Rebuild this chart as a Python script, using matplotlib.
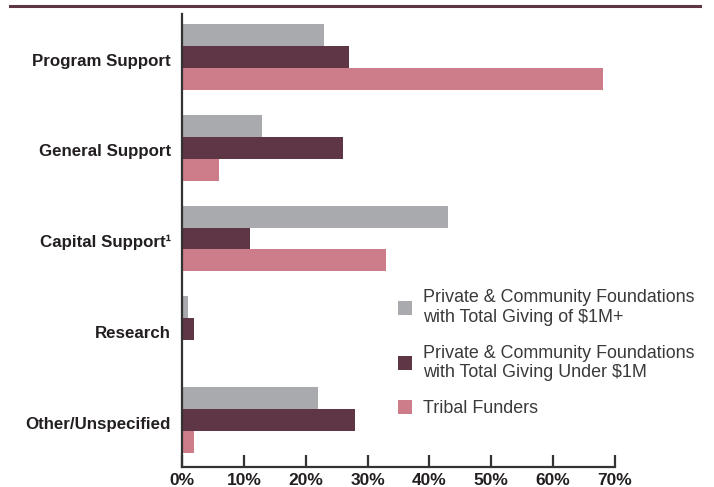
import matplotlib
matplotlib.use("Agg")
import matplotlib.pyplot as plt
import numpy as np
from matplotlib.patches import Patch
from matplotlib.lines import Line2D

categories = ["Program Support", "General Support", "Capital Support¹", "Research", "Other/Unspecified"]
series_names = [
    "Private & Community Foundations\nwith Total Giving of $1M+",
    "Private & Community Foundations\nwith Total Giving Under $1M",
    "Tribal Funders",
]
large_foundations = [23, 13, 43, 1, 22]
small_foundations = [27, 26, 11, 2, 28]
tribal_funders = [68, 6, 33, 0, 2]
x_ticks = [0, 10, 20, 30, 40, 50, 60, 70]
x_tick_labels = ["0%", "10%", "20%", "30%", "40%", "50%", "60%", "70%"]

colors = ["#A9AAAD", "#5E3645", "#CD7D89"]
text_color = "#231F20"

plt.rcParams['font.family'] = ['Liberation Sans', 'DejaVu Sans']

fig = plt.figure(figsize=(7.14, 4.87), dpi=100)
ax = fig.add_axes([182/714, 1-467/487, (615-182)/714, (467-14)/487])

y = np.arange(len(categories))
h = 0.242
for i, (vals, c) in enumerate(zip([large_foundations, small_foundations, tribal_funders], colors)):
    ax.barh(y + (i - 1) * h, vals, height=h, color=c, label=series_names[i], zorder=2)

ax.set_xlim(0, 70)
ax.set_ylim(4.518, -0.474)
ax.set_xticks(x_ticks)
ax.set_xticklabels(x_tick_labels, fontsize=12.5, fontweight='bold', color=text_color)
ax.set_yticks(y + 0.03)
ax.set_yticklabels(categories, fontsize=12.2, fontweight='bold', color=text_color)
ax.tick_params(axis='y', length=0, pad=8)
ax.tick_params(axis='x', direction='in', length=8.5, width=1.6, color="#333333", pad=4)
for s in ['top', 'right']:
    ax.spines[s].set_visible(False)
for s in ['left', 'bottom']:
    ax.spines[s].set_color("#333333")
    ax.spines[s].set_linewidth(1.6)
ax.spines['left'].set_zorder(3)

handles = [Patch(facecolor=c, edgecolor='none') for c in colors]
leg = fig.legend(handles, series_names, loc='upper left', bbox_to_anchor=(382/714, 1-273/487),
                 frameon=False, fontsize=12.9, handlelength=0.8, handleheight=0.8,
                 handletextpad=0.6, labelspacing=1.05, labelcolor="#3A3A3A")

fig.add_artist(Line2D([10/714, 700/714], [1-6/487, 1-6/487], color="#5E3645", lw=2.2))

fig.savefig("out.png", dpi=100)
